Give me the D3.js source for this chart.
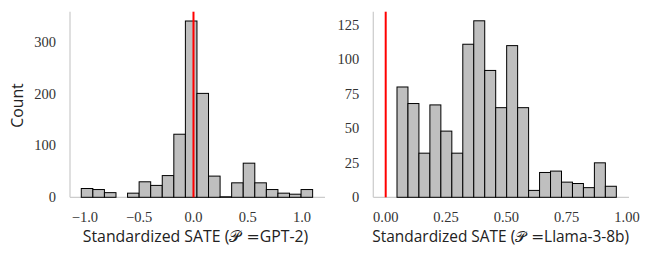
<!DOCTYPE html>
<html><head><meta charset="utf-8">
<script src="https://cdn.jsdelivr.net/npm/d3@7"></script>
<style>body{margin:0;background:#fff}</style>
</head><body>
<svg id="c" width="653" height="258"></svg>
<script>
// ---- data ----
const gpt2Start = -1.034, gpt2Width = 0.1066;
const gpt2Counts = [17, 15, 9, 0, 8, 30, 23, 42, 122, 341, 201, 41, 1, 28, 66, 28, 15, 8, 6, 15];
const gpt2Ticks = [-1.0, -0.5, 0.0, 0.5, 1.0];
const gpt2YTicks = [0, 100, 200, 300];
const llamaStart = 0.0468, llamaWidth = 0.04545;
const llamaCounts = [80, 68, 32, 67, 48, 32, 111, 128, 92, 65, 110, 65, 5, 18, 19, 11, 10, 7, 25, 8];
const llamaTicks = [0.00, 0.25, 0.50, 0.75, 1.00];
const llamaYTicks = [0, 25, 50, 75, 100, 125];
const refLine = 0;

const svg = d3.select('#c');
const serif = "'Liberation Serif', serif";
const sans = "'Open Sans', sans-serif";
const labels = [];

function panel(opt){
  const x = d3.scaleLinear().domain(opt.xDomain).range([opt.x0, opt.x1]);
  const y = d3.scaleLinear().domain([0, opt.yMax]).range([197.3, 11.7]);
  const g = svg.append('g');
  g.append('line').attr('x1',opt.x0).attr('x2',opt.x0).attr('y1',11.7).attr('y2',197.3)
    .attr('stroke','#cccccc').attr('stroke-width',1.25);
  g.append('line').attr('x1',opt.x0).attr('x2',opt.x1).attr('y1',197.3).attr('y2',197.3)
    .attr('stroke','#cccccc').attr('stroke-width',1.25);
  const bins = opt.counts.map((c,i)=>({x0: opt.start + i*opt.width, x1: opt.start + (i+1)*opt.width, c}));
  g.selectAll('rect.b').data(bins.filter(d=>d.c>0)).join('rect')
    .attr('x', d=>x(d.x0)).attr('width', d=>x(d.x1)-x(d.x0))
    .attr('y', d=>y(d.c)).attr('height', d=>y(0)-y(d.c))
    .attr('fill','#bfbfbf').attr('stroke','#000').attr('stroke-width',1);
  g.append('line').attr('x1',x(refLine)).attr('x2',x(refLine)).attr('y1',11.7).attr('y2',197.3)
    .attr('stroke','#ff0000').attr('stroke-width',2);
  g.selectAll('text.xt').data(opt.xTicks).join('text')
    .attr('x', d=>x(d)).attr('y', 222).attr('text-anchor','middle')
    .attr('font-family', serif).attr('font-size', 14.5).attr('fill','#333')
    .text(d=>opt.fmtX(d).replace('-','\u2212'));
  g.selectAll('text.yt').data(opt.yTicks).join('text')
    .attr('x', opt.x0-14).attr('y', d=>y(d)).attr('dy','0.33em').attr('text-anchor','end')
    .attr('font-family', serif).attr('font-size', 14.5).attr('fill','#333')
    .text(d=>d);
  const t = g.append('text').attr('x',opt.lx).attr('y',242).attr('text-anchor','middle')
    .attr('font-family', sans).attr('font-size', 14).attr('fill','#222');
  t.append('tspan').text('Standardized SATE (');
  t.append('tspan').attr('font-family', "'DejaVu Serif', serif").text('\u{1D4AB} =');
  t.append('tspan').text(opt.model + ')');
  labels.push([t, opt.lw]);
  return g;
}

panel({x0:70, x1:325, xDomain:[-1.138, 1.212], yMax:359, start:gpt2Start, width:gpt2Width,
  counts:gpt2Counts, xTicks:gpt2Ticks, yTicks:gpt2YTicks, fmtX:d3.format('.1f'), model:'GPT-2', lx:195.5, lw:225});
panel({x0:373.3, x1:629, xDomain:[-0.0514, 1.0083], yMax:134.6, start:llamaStart, width:llamaWidth,
  counts:llamaCounts, xTicks:llamaTicks, yTicks:llamaYTicks, fmtX:d3.format('.2f'), model:'Llama-3-8b', lx:500.7, lw:257});

let labelSize = 14;
labels.forEach(([t, w], i)=>{
  const cur = t.node().getComputedTextLength();
  const fs = 14*w/cur;
  t.attr('font-size', fs);
  if (i===0) labelSize = fs;
});

svg.append('text').attr('transform','translate(23.3,105.5) rotate(-90)').attr('text-anchor','middle')
  .attr('font-family', sans).attr('font-size',labelSize).attr('fill','#222').text('Count');
</script>
</body></html>
